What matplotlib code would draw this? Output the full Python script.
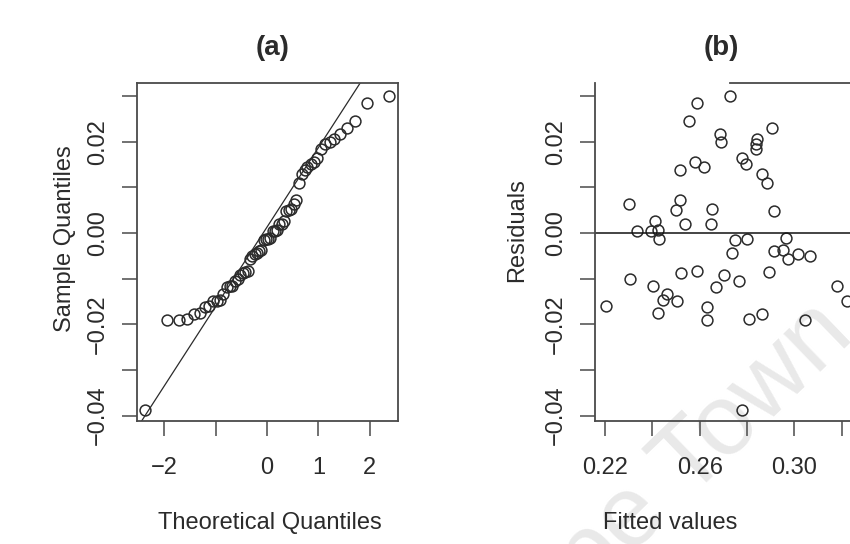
import matplotlib.pyplot as plt
import numpy as np

plt.rcParams["font.family"] = ["Liberation Sans", "DejaVu Sans"]

# ---------- model output: fitted values and residuals ----------
fitted = [
    0.2203, 0.2303, 0.2306, 0.2337, 0.2394, 0.2411, 0.2422, 0.2428, 0.2403, 0.2460,
    0.2445, 0.2504, 0.2424, 0.2517, 0.2517, 0.2502, 0.2538, 0.2521, 0.2587, 0.2553,
    0.2589, 0.2582, 0.2620, 0.2652, 0.2650, 0.2629, 0.2629, 0.2671, 0.2701, 0.2686,
    0.2690, 0.2730, 0.2735, 0.2751, 0.2768, 0.2777, 0.2796, 0.2800, 0.2808, 0.2864,
    0.2778, 0.2842, 0.2836, 0.2864, 0.2886, 0.2906, 0.2913, 0.2893, 0.2913, 0.2950,
    0.2964, 0.2975, 0.3015, 0.3066, 0.3046, 0.3179, 0.3222, 0.2840,
]
residuals = [
    -0.0160, 0.0064, -0.0100, 0.0004, 0.0005, 0.0027, 0.0007, -0.0014, -0.0115, -0.0134,
    -0.0147, -0.0149, -0.0175, 0.0138, 0.0072, 0.0051, 0.0019, -0.0088, -0.0084, 0.0246,
    0.0284, 0.0156, 0.0145, 0.0052, 0.0020, -0.0162, -0.0190, -0.0118, -0.0093, 0.0217,
    0.0200, 0.0300, -0.0044, -0.0016, -0.0106, 0.0164, 0.0152, -0.0014, -0.0189, -0.0178,
    -0.0388, 0.0205, 0.0185, 0.0129, 0.0109, 0.0229, 0.0048, -0.0086, -0.0039, -0.0037,
    -0.0011, -0.0056, -0.0046, -0.0051, -0.0190, -0.0115, -0.0148, 0.0195,
]

# normal scores for 58 ordered observations
theoretical_q = [
    -2.381, -1.945, -1.716, -1.552, -1.421, -1.312, -1.216, -1.130, -1.051, -0.979,
    -0.911, -0.848, -0.787, -0.730, -0.674, -0.621, -0.570, -0.519, -0.471, -0.423,
    -0.376, -0.330, -0.285, -0.240, -0.196, -0.152, -0.108, -0.065, -0.022,
    0.022, 0.065, 0.108, 0.152, 0.196, 0.240, 0.285, 0.330, 0.376, 0.423,
    0.471, 0.519, 0.570, 0.621, 0.674, 0.730, 0.787, 0.848, 0.911, 0.979,
    1.051, 1.130, 1.216, 1.312, 1.421, 1.552, 1.716, 1.945, 2.381,
]

# reference line through the quartiles
qq_intercept = 0.0013
qq_slope = 0.0174

# ---------- axis ticks ----------
y_ticks = [0.03, 0.02, 0.01, 0.00, -0.01, -0.02, -0.03, -0.04]
y_tick_labels = ["", "0.02", "", "0.00", "", "\u22120.02", "", "\u22120.04"]
qq_x_ticks = [-2, -1, 0, 1, 2]
qq_x_tick_labels = ["\u22122", "", "0", "1", "2"]
fit_x_ticks = [0.22, 0.24, 0.26, 0.28, 0.30, 0.32]
fit_x_tick_labels = ["0.22", "", "0.26", "", "0.30", ""]

INK = "#2b2b2b"
FRAME = "#4a4a4a"
FS = 17


def style_axes(ax):
    ax.set_facecolor("none")
    ax.tick_params(axis="both", direction="out", length=11, width=1.1,
                   color=FRAME, labelcolor=INK, labelsize=FS)
    ax.tick_params(axis="x", pad=15)
    ax.tick_params(axis="y", pad=9)
    for lab in ax.get_yticklabels():
        lab.set_rotation(90)
        lab.set_va("center")
    for sp in ax.spines.values():
        sp.set_color(FRAME)
        sp.set_linewidth(1.3)


fig = plt.figure(figsize=(8.5, 5.44), dpi=100)

# faint watermark running off the lower right corner, kept under the plots
fig.text(1.007, 0.38, "Cape Town", fontsize=72, color="#e9e9e9", rotation=44,
         rotation_mode="anchor", ha="right", va="baseline", zorder=-1)

# ---------- (a) normal Q-Q plot ----------
ax_a = fig.add_axes([0.1612, 0.2261, 0.3071, 0.6213])
ax_a.plot(theoretical_q, np.sort(residuals), "o", ms=7.8, mfc="none",
          mec=INK, mew=1.1)
ax_a.axline((0, qq_intercept), slope=qq_slope, color=INK, lw=0.9)
ax_a.set_xlim(-2.53, 2.55)
ax_a.set_ylim(-0.04117, 0.03284)
ax_a.set_xticks(qq_x_ticks)
ax_a.set_xticklabels(qq_x_tick_labels)
ax_a.set_yticks(y_ticks)
ax_a.set_yticklabels(y_tick_labels)
style_axes(ax_a)
ax_a.set_xlabel("Theoretical Quantiles", fontsize=FS, color=INK)
ax_a.set_ylabel("Sample Quantiles", fontsize=FS, color=INK)
ax_a.xaxis.set_label_coords(0.51, -0.27)
ax_a.yaxis.set_label_coords(-0.232, 0.54)
ax_a.set_title("(a)", x=0.52, y=1.083, pad=0, fontsize=20,
               fontweight="bold", color=INK)

# ---------- (b) residuals vs fitted ----------
ax_b = fig.add_axes([0.70, 0.2261, 0.3141, 0.6213])
ax_b.plot(fitted, residuals, "o", ms=7.8, mfc="none", mec=INK, mew=1.1)
ax_b.axhline(0, color="#111111", lw=1.1)
ax_b.set_xlim(0.21578, 0.32858)
ax_b.set_ylim(-0.04117, 0.03284)
ax_b.set_xticks(fit_x_ticks)
ax_b.set_xticklabels(fit_x_tick_labels)
ax_b.set_yticks(y_ticks)
ax_b.set_yticklabels(y_tick_labels)
style_axes(ax_b)
ax_b.spines["top"].set_bounds(0.273, 0.32858)
ax_b.set_xlabel("Fitted values", fontsize=FS, color=INK)
ax_b.set_ylabel("Residuals", fontsize=FS, color=INK)
ax_b.xaxis.set_label_coords(0.28, -0.27)
ax_b.yaxis.set_label_coords(-0.25, 0.565)
ax_b.set_title("(b)", x=0.472, y=1.083, pad=0, fontsize=20,
               fontweight="bold", color=INK)

fig.savefig("out.png", dpi=100)
